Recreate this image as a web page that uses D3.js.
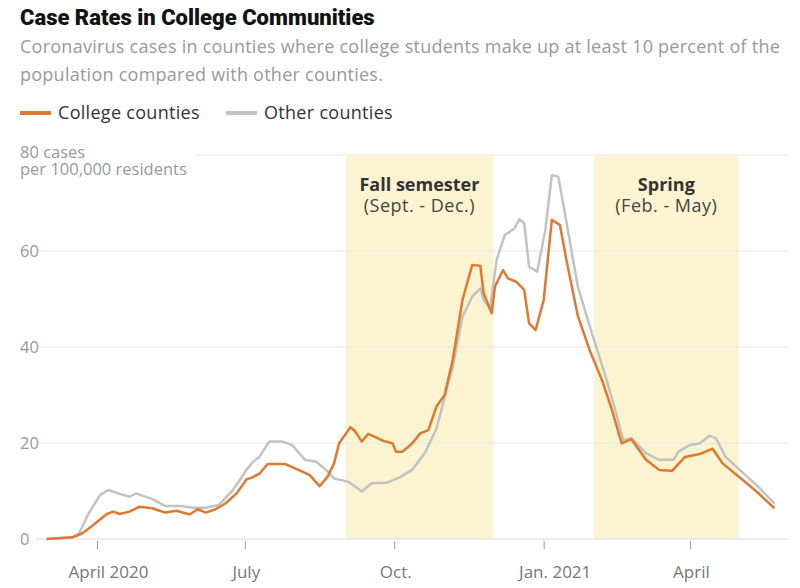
<!DOCTYPE html>
<html>
<head>
<meta charset="utf-8">
<script src="https://cdn.jsdelivr.net/npm/d3@7"></script>
<style>
  body { margin: 0; background: #fff; }
  text { font-family: "Open Sans", "Liberation Sans", sans-serif; }
</style>
</head>
<body>
<div id="chart"></div>
<script>
// Case rates, college counties vs other counties

const width = 800;
const height = 588;

// 7-day average, cases per 100,000 residents
const collegeDates = ["2020-03-01","2020-03-17","2020-03-23","2020-03-29","2020-04-07","2020-04-11","2020-04-15","2020-04-21","2020-04-27","2020-05-05","2020-05-13","2020-05-20","2020-05-28","2020-06-02","2020-06-07","2020-06-13","2020-06-19","2020-06-26","2020-07-02","2020-07-06","2020-07-10","2020-07-15","2020-07-26","2020-08-03","2020-08-10","2020-08-16","2020-08-21","2020-08-25","2020-08-28","2020-09-04","2020-09-07","2020-09-11","2020-09-15","2020-09-24","2020-09-30","2020-10-02","2020-10-06","2020-10-12","2020-10-17","2020-10-22","2020-10-27","2020-11-01","2020-11-06","2020-11-12","2020-11-18","2020-11-23","2020-11-25","2020-11-30","2020-12-02","2020-12-07","2020-12-10","2020-12-15","2020-12-20","2020-12-23","2020-12-27","2021-01-01","2021-01-06","2021-01-11","2021-01-15","2021-01-22","2021-01-29","2021-02-06","2021-02-12","2021-02-18","2021-02-24","2021-03-05","2021-03-13","2021-03-21","2021-03-29","2021-04-07","2021-04-15","2021-04-21","2021-05-01","2021-05-12","2021-05-23"];
const collegeValues = [0,0.35,1.2,2.7,5.2,5.7,5.2,5.7,6.7,6.4,5.5,5.9,5.1,6.2,5.5,6.2,7.4,9.5,12.4,12.9,13.6,15.6,15.6,14.4,13.3,11.0,13.0,15.8,19.9,23.3,22.4,20.3,21.9,20.5,19.9,18.2,18.2,19.9,22.0,22.7,27.6,30.0,37.3,49.8,57.1,56.9,51.2,47.0,52.6,56.0,54.3,53.6,51.9,44.9,43.5,49.8,66.5,65.4,58.1,46.5,39.6,33.0,26.9,19.9,20.8,16.5,14.4,14.2,17.1,17.7,18.8,15.8,13.0,9.9,6.4];

const otherDates = ["2020-03-01","2020-03-17","2020-03-21","2020-03-27","2020-04-03","2020-04-08","2020-04-15","2020-04-21","2020-04-25","2020-05-05","2020-05-13","2020-05-22","2020-05-30","2020-06-07","2020-06-15","2020-06-23","2020-06-28","2020-07-02","2020-07-06","2020-07-10","2020-07-16","2020-07-24","2020-07-30","2020-08-07","2020-08-14","2020-08-20","2020-08-25","2020-09-03","2020-09-11","2020-09-17","2020-09-26","2020-10-04","2020-10-12","2020-10-20","2020-10-27","2020-11-06","2020-11-12","2020-11-18","2020-11-23","2020-11-25","2020-11-29","2020-12-03","2020-12-08","2020-12-14","2020-12-17","2020-12-20","2020-12-23","2020-12-28","2021-01-02","2021-01-06","2021-01-10","2021-01-14","2021-01-22","2021-01-31","2021-02-08","2021-02-14","2021-02-19","2021-02-24","2021-03-05","2021-03-13","2021-03-22","2021-03-25","2021-04-01","2021-04-07","2021-04-13","2021-04-17","2021-04-23","2021-05-03","2021-05-14","2021-05-23"];
const otherValues = [0,0.35,1.2,5.4,9.2,10.2,9.4,8.8,9.5,8.3,6.9,6.9,6.5,6.5,7.1,9.9,12.3,14.4,16.1,17.1,20.3,20.3,19.6,16.5,16.1,14.4,12.6,11.9,9.9,11.6,11.7,12.8,14.4,18.0,23.0,35.9,46.3,50.5,52.2,49.8,48.1,58.1,63.3,64.7,66.6,65.8,56.7,55.7,64.4,75.8,75.5,67.9,52.6,42.5,34.0,26.9,20.6,21.0,17.9,16.5,16.5,18.2,19.6,19.9,21.5,21.0,17.1,14.0,10.6,7.4];

const semesterStarts = ["2020-09-01","2021-02-01"];
const semesterEnds = ["2020-12-01","2021-05-01"];
const semesterNames = ["Fall semester","Spring"];
const semesterMonths = ["(Sept. - Dec.)","(Feb. - May)"];

const yTicks = [0, 20, 40, 60, 80];
const xTickDates = ["2020-04-01","2020-07-01","2020-10-01","2021-01-01","2021-04-01"];
const xTickLabels = ["April 2020","July","Oct.","Jan. 2021","April"];

const seriesNames = ["College counties","Other counties"];
const seriesColors = ["#e0782f","#c2c2c2"];

const parse = d3.timeParse("%Y-%m-%d");

const svg = d3.select("#chart")
  .append("svg")
  .attr("width", width)
  .attr("height", height);

// scales
const x = d3.scaleTime()
  .domain([parse("2020-03-01"), parse("2021-06-01")])
  .range([46.6, 789]);

const y = d3.scaleLinear()
  .domain([0, 80])
  .range([539, 155]);

// title
svg.append("text")
  .attr("x", 20).attr("y", 25)
  .style("font-family", "Roboto, sans-serif")
  .style("font-size", "22px").style("font-weight", "900").attr("fill", "#121212")
  .text("Case Rates in College Communities");

const sub = ["Coronavirus cases in counties where college students make up at least 10 percent of the",
             "population compared with other counties."];
sub.forEach((s, i) => {
  svg.append("text")
    .attr("x", 20).attr("y", 53 + i * 28)
    .style("font-size", "18px").style("letter-spacing", "0.25px").attr("fill", "#999")
    .text(s);
});

// legend
const legend = svg.append("g").attr("transform", "translate(20, 113)");
const legendX = [0, 206];
seriesNames.forEach((name, i) => {
  legend.append("line")
    .attr("x1", legendX[i]).attr("x2", legendX[i] + 31)
    .attr("y1", 0).attr("y2", 0)
    .attr("stroke", seriesColors[i]).attr("stroke-width", 4);
  legend.append("text")
    .attr("x", legendX[i] + 38).attr("y", 6)
    .style("font-size", "18px").style("letter-spacing", "0.3px").attr("fill", "#333")
    .text(name);
});

// semester shading
const shade = svg.append("g");
semesterStarts.forEach((s, i) => {
  const x0 = x(parse(s)), x1 = x(parse(semesterEnds[i]));
  shade.append("rect")
    .attr("x", x0).attr("y", y(80))
    .attr("width", x1 - x0).attr("height", y(0) - y(80))
    .attr("fill", "#fcf3d0");
  shade.append("text")
    .attr("x", (x0 + x1) / 2).attr("y", 191)
    .attr("text-anchor", "middle")
    .style("font-size", "18px").style("font-weight", "bold").attr("fill", "#333")
    .text(semesterNames[i]);
  shade.append("text")
    .attr("x", (x0 + x1) / 2).attr("y", 212)
    .attr("text-anchor", "middle")
    .style("font-size", "18px").style("letter-spacing", "0.5px").attr("fill", "#444")
    .text(semesterMonths[i]);
});

// grid + y labels
const grid = svg.append("g");
yTicks.forEach(t => {
  grid.append("line")
    .attr("x1", t === 80 ? 195 : 36).attr("x2", 789)
    .attr("y1", y(t)).attr("y2", y(t))
    .attr("stroke", t === 0 ? "#ddd" : "#e8e8e8").attr("stroke-width", 1);
  if (t !== 80) {
    grid.append("text")
      .attr("x", 20).attr("y", y(t) + 6)
      .style("font-size", "16.5px").attr("fill", "#999")
      .text(t);
  }
});
svg.append("text").attr("x", 20).attr("y", 158)
  .style("font-size", "16.5px").attr("fill", "#999").text("80 cases");
svg.append("text").attr("x", 20).attr("y", 175)
  .style("font-size", "16.5px").attr("fill", "#999").text("per 100,000 residents");

// x axis
const xAxis = d3.axisBottom(x)
  .tickValues(xTickDates.map(parse))
  .tickFormat((d, i) => xTickLabels[i])
  .tickSize(8)
  .tickPadding(17);

const gx = svg.append("g")
  .attr("transform", `translate(0, ${y(0) + 2})`)
  .call(xAxis);
gx.select(".domain").remove();
gx.selectAll(".tick line").attr("stroke", "#999");
gx.selectAll(".tick text")
  .style("font-size", "17px").attr("fill", "#777")
  .style("font-family", "'Open Sans', sans-serif")
  .attr("dx", (d, i) => /\d{4}/.test(xTickLabels[i]) ? 11 : 1);

// lines
const line = d3.line()
  .x(d => x(d[0]))
  .y(d => y(d[1]));

const otherData = otherDates.map((d, i) => [parse(d), otherValues[i]]);
const collegeData = collegeDates.map((d, i) => [parse(d), collegeValues[i]]);

svg.append("path")
  .datum(otherData)
  .attr("d", line)
  .attr("fill", "none")
  .attr("stroke", seriesColors[1])
  .attr("stroke-width", 2.5)
  .attr("stroke-linejoin", "round");

svg.append("path")
  .datum(collegeData)
  .attr("d", line)
  .attr("fill", "none")
  .attr("stroke", seriesColors[0])
  .attr("stroke-width", 2.5)
  .attr("stroke-linejoin", "round");
</script>
</body>
</html>
